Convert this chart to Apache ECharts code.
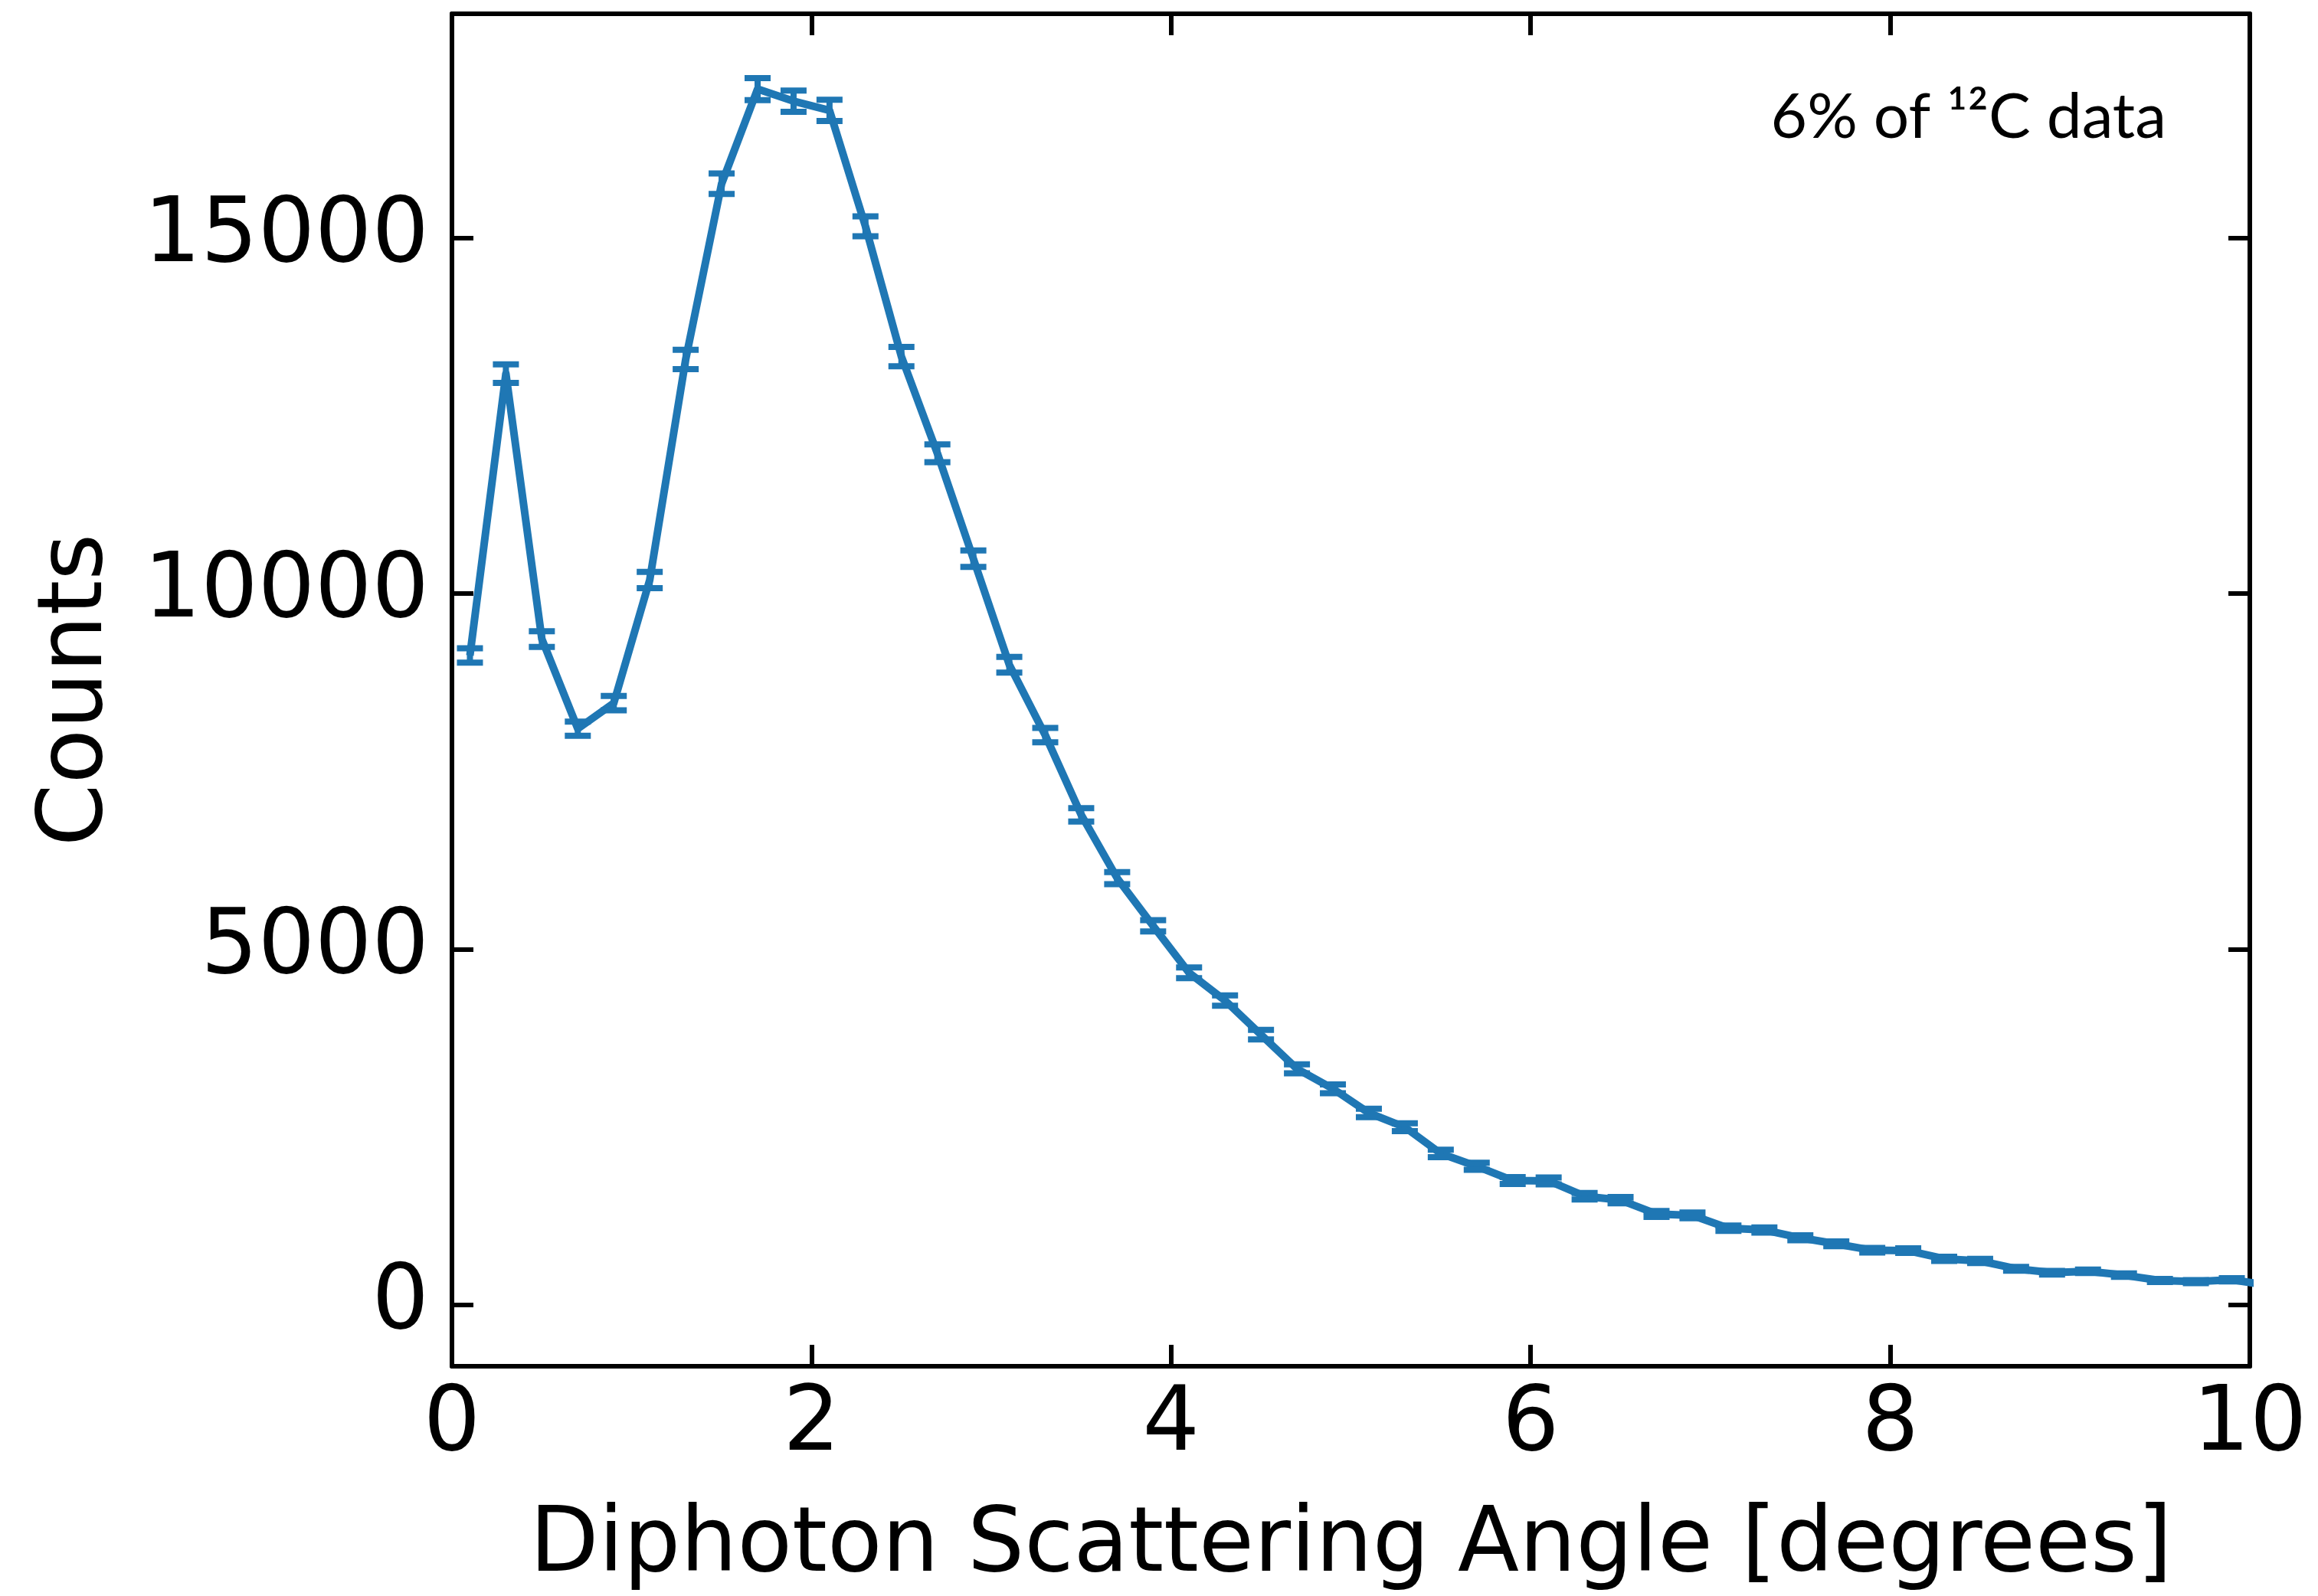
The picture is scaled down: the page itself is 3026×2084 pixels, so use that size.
<!DOCTYPE html>
<html>
<head>
<meta charset="utf-8">
<script src="https://cdn.jsdelivr.net/npm/echarts@6/dist/echarts.min.js"></script>
<style>
  html, body { margin: 0; padding: 0; background: #ffffff; }
  #chart { width: 3026px; height: 2084px; }
</style>
</head>
<body>
<div id="chart"></div>
<script>
// Bin centres of the diphoton scattering angle histogram [degrees]
const angle = [
  0.1, 0.3, 0.5, 0.7, 0.9, 1.1, 1.3, 1.5, 1.7, 1.9,
  2.1, 2.3, 2.5, 2.7, 2.9, 3.1, 3.3, 3.5, 3.7, 3.9,
  4.1, 4.3, 4.5, 4.7, 4.9, 5.1, 5.3, 5.5, 5.7, 5.9,
  6.1, 6.3, 6.5, 6.7, 6.9, 7.1, 7.3, 7.5, 7.7, 7.9,
  8.1, 8.3, 8.5, 8.7, 8.9, 9.1, 9.3, 9.5, 9.7, 9.9,
  10.1
];

// Counts per bin
const counts = [
  9130, 13090, 9360, 8100, 8460, 10190, 13290, 15760, 17090, 16920,
  16790, 15160, 13330, 11970, 10490, 9000, 8010, 6890, 6000, 5330,
  4670, 4280, 3800, 3320, 3040, 2700, 2500, 2130, 1950, 1750,
  1745, 1530, 1475, 1280, 1260, 1080, 1055, 945, 860, 770,
  765, 650, 620, 510, 455, 475, 420, 345, 330, 355,
  280
];

// Uncertainty on each bin (half height of the error bar)
const errors = [
  100, 130, 110, 100, 100, 115, 135, 145, 155, 150,
  150, 140, 135, 125, 115, 110, 100, 95, 85, 80,
  75, 72, 68, 64, 62, 58, 56, 52, 50, 48,
  48, 45, 44, 41, 41, 38, 37, 35, 34, 32,
  32, 30, 29, 26, 25, 25, 24, 22, 21, 22,
  20
];

const yTicks = [0, 5000, 10000, 15000];

const blue = '#1f77b4';
const tickFont = 'DejaVu Sans';

const chart = echarts.init(document.getElementById('chart'), null, { renderer: 'canvas' });

const lineData = angle.map((a, i) => [a, counts[i]]);
const barData = angle.map((a, i) => [a, counts[i], errors[i]]);

function frameAxis(extra) {
  return Object.assign({
    axisLine: { show: true, onZero: false, lineStyle: { color: '#000', width: 6 } },
    axisTick: { show: true, inside: true, length: 28, lineStyle: { color: '#000', width: 6 } },
    splitLine: { show: false }
  }, extra);
}

const option = {
  backgroundColor: '#ffffff',
  animation: false,
  grid: { left: 590, right: 89, top: 18, bottom: 291, containLabel: false },
  xAxis: [
    frameAxis({
      type: 'value', min: 0, max: 10, interval: 2, position: 'bottom',
      axisLabel: {
        show: true, margin: 20, color: '#000', fontFamily: tickFont, fontSize: 117,
        formatter: v => String(v)
      },
      name: 'Diphoton Scattering Angle [degrees]',
      nameLocation: 'middle', nameGap: 178,
      nameTextStyle: { color: '#000', fontFamily: tickFont, fontSize: 117 }
    }),
    frameAxis({
      type: 'value', min: 0, max: 10, interval: 2, position: 'top',
      axisLabel: { show: false }
    })
  ],
  yAxis: [
    frameAxis({
      type: 'value', min: -860, max: 18148, position: 'left',
      axisTick: { show: true, inside: true, length: 28, customValues: yTicks, lineStyle: { color: '#000', width: 6 } },
      axisLabel: {
        show: true, margin: 30, color: '#000', fontFamily: tickFont, fontSize: 117,
        customValues: yTicks, formatter: v => String(v)
      },
      name: 'Counts', nameLocation: 'middle', nameGap: 430, nameRotate: 90,
      nameTextStyle: { color: '#000', fontFamily: tickFont, fontSize: 117 }
    }),
    frameAxis({
      type: 'value', min: -860, max: 18148, position: 'right',
      axisTick: { show: true, inside: true, length: 28, customValues: yTicks, lineStyle: { color: '#000', width: 6 } },
      axisLabel: { show: false, customValues: yTicks }
    })
  ],
  series: [
    {
      type: 'line',
      xAxisIndex: 0, yAxisIndex: 0,
      data: lineData,
      symbol: 'none',
      clip: true,
      lineStyle: { color: blue, width: 10, join: 'round', cap: 'butt' },
      z: 3
    },
    {
      type: 'custom',
      xAxisIndex: 0, yAxisIndex: 0,
      data: barData,
      clip: true,
      z: 4,
      renderItem: function (params, api) {
        const x = api.value(0), y = api.value(1), e = api.value(2);
        const hi = api.coord([x, y + e]);
        const lo = api.coord([x, y - e]);
        const half = 17;
        const style = { stroke: blue, lineWidth: 8, lineCap: 'butt' };
        return {
          type: 'group',
          children: [
            { type: 'line', shape: { x1: hi[0], y1: hi[1], x2: lo[0], y2: lo[1] }, style: style },
            { type: 'line', shape: { x1: hi[0] - half, y1: hi[1], x2: hi[0] + half, y2: hi[1] }, style: style },
            { type: 'line', shape: { x1: lo[0] - half, y1: lo[1], x2: lo[0] + half, y2: lo[1] }, style: style }
          ]
        };
      }
    }
  ],
  graphic: [
    {
      type: 'text',
      x: 2828, y: 154,
      style: {
        text: '6% of \u00B9\u00B2C data',
        fill: '#000',
        font: '400 82px Lato, "Open Sans", sans-serif',
        textAlign: 'right',
        textVerticalAlign: 'middle'
      }
    }
  ]
};

chart.setOption(option);
</script>
</body>
</html>
